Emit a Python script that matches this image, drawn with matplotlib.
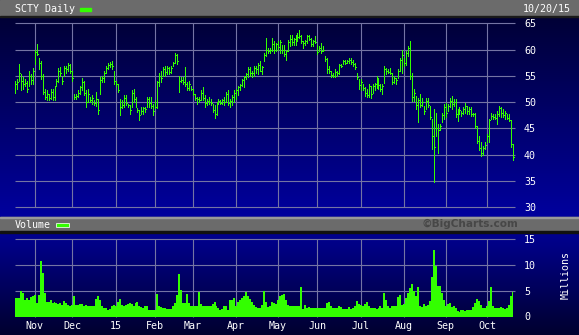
import numpy as np
import pandas as pd
import matplotlib
matplotlib.use("Agg")
import matplotlib.pyplot as plt
from matplotlib.patches import Rectangle
from matplotlib.colors import LinearSegmentedColormap

# ---------------- data ----------------
title = "SCTY Daily"
date_label = "10/20/15"
start_date, end_date = "2014-10-20", "2015-10-20"
holidays = ["2014-11-27", "2014-12-25", "2015-01-01", "2015-01-19", "2015-02-16",
            "2015-04-03", "2015-05-25", "2015-07-03", "2015-09-07"]
month_labels = ["Nov", "Dec", "15", "Feb", "Mar", "Apr", "May", "Jun", "Jul", "Aug", "Sep", "Oct"]
price_ticks = [30, 35, 40, 45, 50, 55, 60, 65]
vol_ticks = [0, 5, 10, 15]

high = [54.1, 54.4, 57.2, 55.3, 54.7, 54.4, 54.1, 55.9, 55.3, 56.4,
        59.9, 61.1, 58.3, 57.8, 55.3, 52.5, 52.2, 51.6, 52.5, 52.5,
        53.1, 54.4, 56.4, 56.6, 54.7, 56.9, 56.9, 57.5, 57.2, 55.9,
        51.6, 51.6, 52.2, 53.1, 54.5, 54.1, 52.2, 52.5, 50.9, 51.3,
        50.3, 51.9, 50.6, 54.7, 55.0, 55.9, 56.9, 57.5, 57.6, 57.8,
        55.9, 54.1, 53.4, 50.6, 50.3, 51.3, 51.3, 49.7, 49.4, 52.2,
        52.5, 50.9, 48.8, 48.4, 49.1, 49.1, 49.1, 50.9, 50.9, 50.9,
        49.7, 50.3, 54.1, 55.6, 55.9, 56.6, 56.9, 56.9, 56.6, 56.9,
        57.6, 59.4, 59.1, 55.0, 54.7, 54.7, 56.6, 53.8, 54.1, 53.1,
        52.5, 51.6, 50.9, 50.9, 52.2, 52.8, 51.3, 50.6, 50.9, 50.6,
        49.7, 49.4, 50.0, 50.6, 50.3, 50.6, 50.9, 51.9, 52.2, 50.6,
        51.3, 52.2, 52.5, 53.1, 53.4, 54.4, 55.0, 55.6, 56.6, 56.6,
        55.9, 56.9, 56.9, 57.5, 57.8, 56.9, 59.4, 62.2, 60.3, 60.3,
        62.2, 61.6, 61.3, 61.6, 61.9, 60.9, 60.9, 60.0, 61.9, 62.8,
        62.8, 62.2, 62.8, 63.1, 63.8, 62.8, 61.6, 61.9, 62.8, 62.8,
        62.2, 61.9, 62.5, 60.9, 60.6, 61.3, 60.6, 58.8, 58.4, 56.9,
        55.9, 55.6, 56.3, 55.9, 57.2, 57.2, 58.1, 58.1, 58.1, 58.4,
        58.4, 58.1, 57.5, 55.6, 54.4, 54.4, 53.5, 52.8, 52.4, 53.4,
        53.1, 53.4, 53.7, 55.0, 54.4, 53.4, 53.4, 56.8, 56.5, 56.2,
        56.5, 55.6, 54.9, 54.6, 56.2, 58.4, 60.0, 58.4, 59.7, 60.6,
        61.7, 55.6, 52.4, 51.2, 50.8, 51.5, 50.8, 49.3, 50.8, 50.8,
        49.3, 46.8, 48.6, 48.0, 45.8, 45.8, 48.0, 49.6, 49.9, 49.6,
        50.8, 51.2, 50.5, 50.5, 48.6, 49.0, 48.3, 49.0, 49.9, 49.3,
        49.0, 49.0, 48.0, 48.0, 45.5, 43.6, 42.4, 41.6, 42.4, 43.9,
        46.8, 48.0, 47.7, 47.7, 48.3, 49.3, 49.0, 48.6, 48.3, 47.7,
        47.7, 46.5, 42.0]

low = [51.8, 52.5, 54.0, 52.2, 52.5, 53.1, 51.9, 53.1, 53.4, 53.4,
       57.3, 58.9, 56.3, 54.4, 51.6, 50.6, 50.3, 50.3, 50.6, 50.3,
       50.3, 53.1, 53.8, 55.0, 53.4, 55.0, 55.6, 55.9, 55.6, 54.1,
       50.6, 50.6, 50.9, 51.6, 52.2, 51.3, 49.1, 50.0, 50.0, 49.7,
       49.4, 49.3, 47.8, 51.6, 53.8, 53.8, 55.6, 56.3, 56.6, 56.3,
       53.4, 53.1, 51.9, 47.5, 48.8, 49.1, 49.4, 49.1, 47.8, 49.1,
       50.0, 49.1, 48.1, 46.6, 47.8, 47.8, 48.1, 49.1, 49.1, 48.8,
       47.5, 48.8, 48.8, 53.1, 53.8, 55.0, 55.0, 55.3, 55.3, 55.6,
       56.9, 57.5, 57.2, 51.9, 53.8, 53.4, 53.1, 52.2, 52.2, 52.2,
       51.3, 50.3, 49.7, 50.0, 50.3, 50.3, 49.1, 49.4, 49.7, 49.4,
       48.1, 46.9, 47.5, 49.7, 49.7, 49.7, 49.4, 50.0, 49.4, 49.1,
       49.4, 50.0, 50.6, 51.3, 52.2, 53.1, 52.8, 54.4, 54.7, 55.0,
       54.7, 55.0, 55.6, 55.3, 55.9, 55.3, 57.8, 58.8, 59.4, 59.4,
       59.7, 59.4, 59.7, 60.0, 59.4, 59.4, 58.8, 58.1, 59.7, 60.6,
       60.9, 60.9, 60.9, 61.6, 62.2, 61.3, 60.3, 60.9, 61.3, 61.9,
       60.6, 60.6, 61.3, 59.1, 59.7, 59.4, 59.7, 57.8, 55.6, 55.6,
       54.7, 54.7, 54.7, 55.0, 55.3, 56.6, 57.2, 57.2, 57.5, 57.5,
       57.2, 56.9, 56.3, 54.4, 52.5, 52.2, 52.2, 51.2, 50.9, 50.9,
       50.8, 51.8, 52.2, 52.7, 52.5, 52.1, 51.5, 53.7, 55.3, 55.6,
       55.3, 53.4, 53.7, 53.4, 54.6, 55.9, 55.6, 56.8, 57.1, 58.7,
       54.3, 50.2, 50.2, 48.6, 46.1, 49.0, 49.3, 47.7, 48.6, 49.0,
       46.8, 41.1, 34.8, 43.6, 40.2, 44.6, 46.1, 46.8, 47.1, 48.3,
       49.0, 48.6, 49.3, 47.1, 46.4, 47.7, 47.4, 47.7, 48.0, 47.7,
       47.7, 47.4, 47.4, 45.0, 42.2, 40.8, 39.8, 40.0, 41.1, 42.4,
       42.4, 46.8, 46.8, 46.8, 45.8, 47.4, 47.1, 47.1, 46.8, 46.8,
       46.4, 41.5, 39.0]

close = [53.5, 53.8, 55.5, 54.0, 53.5, 53.6, 52.5, 55.0, 54.2, 56.0,
         59.5, 59.2, 57.5, 55.0, 52.0, 51.0, 51.5, 50.8, 52.0, 51.0,
         52.8, 54.0, 56.0, 55.5, 54.0, 56.5, 56.2, 57.0, 56.0, 54.5,
         51.0, 51.2, 51.8, 52.8, 53.8, 51.8, 50.0, 51.5, 50.4, 50.8,
         49.8, 50.5, 48.5, 54.2, 54.5, 55.5, 56.5, 57.0, 57.2, 56.8,
         54.0, 53.5, 52.2, 49.0, 49.5, 50.8, 49.8, 49.4, 48.5, 51.8,
         50.5, 49.4, 48.4, 47.5, 48.2, 48.8, 48.6, 50.5, 49.8, 49.2,
         48.2, 49.0, 53.8, 55.0, 54.5, 56.2, 55.8, 56.5, 55.8, 56.5,
         57.4, 59.0, 57.8, 54.0, 54.2, 53.8, 53.5, 52.6, 53.5, 52.5,
         51.6, 50.8, 50.5, 50.4, 51.8, 50.8, 49.8, 50.2, 50.0, 49.8,
         48.5, 47.8, 49.6, 50.2, 49.9, 50.3, 50.0, 51.5, 49.8, 50.2,
         51.0, 51.8, 52.2, 52.8, 53.2, 54.2, 54.8, 55.3, 56.3, 55.5,
         55.6, 56.5, 56.2, 57.0, 56.0, 56.7, 59.0, 60.0, 59.8, 60.0,
         61.0, 60.0, 61.0, 60.4, 61.5, 60.0, 59.2, 59.8, 61.5, 62.0,
         61.5, 62.0, 62.5, 62.4, 62.5, 61.6, 61.2, 61.7, 62.5, 62.0,
         61.0, 61.6, 61.5, 59.6, 60.2, 59.8, 60.0, 58.2, 56.2, 56.0,
         55.2, 55.0, 55.8, 55.5, 57.0, 56.9, 57.8, 57.5, 57.9, 58.0,
         57.6, 57.3, 56.6, 54.8, 53.2, 53.8, 52.6, 51.8, 51.3, 53.0,
         51.5, 53.0, 53.4, 54.5, 53.2, 52.5, 53.0, 56.2, 56.0, 55.8,
         55.6, 53.8, 54.5, 54.2, 55.9, 58.0, 59.0, 57.5, 59.3, 60.2,
         55.0, 51.0, 51.8, 49.5, 50.3, 49.5, 50.0, 48.2, 50.2, 49.5,
         47.2, 43.5, 41.5, 45.0, 44.6, 45.5, 47.5, 49.0, 48.0, 49.2,
         50.2, 49.6, 50.0, 47.8, 48.2, 48.5, 47.9, 48.6, 49.2, 48.3,
         48.6, 47.8, 47.7, 45.5, 42.6, 41.2, 40.3, 41.2, 41.9, 43.5,
         46.5, 47.3, 47.2, 47.0, 47.8, 48.8, 48.0, 47.5, 47.9, 47.0,
         46.6, 42.0, 39.6]

volume = [3.6, 3.6, 3.6, 4.9, 4.6, 3.3, 3.5, 3.3, 3.8, 3.9,
          4.2, 2.6, 4.2, 10.8, 8.5, 4.6, 2.9, 2.9, 3.3, 2.6,
          2.9, 2.7, 2.4, 2.6, 2.3, 3.1, 2.6, 2.3, 2.0, 2.3,
          3.9, 2.2, 2.3, 2.5, 2.5, 2.1, 2.3, 2.1, 2.1, 2.1,
          2.1, 3.4, 3.9, 3.3, 2.1, 1.6, 1.6, 1.3, 1.4, 2.0,
          2.3, 2.0, 2.9, 3.4, 2.3, 2.0, 2.3, 2.5, 2.7, 2.5,
          2.1, 2.6, 2.9, 2.1, 1.8, 1.6, 2.0, 2.1, 1.3, 1.3,
          1.3, 1.3, 4.4, 2.1, 1.8, 1.6, 1.6, 1.4, 1.4, 1.4,
          2.1, 2.7, 4.2, 8.2, 5.2, 2.6, 2.6, 4.4, 2.6, 2.1,
          2.1, 2.0, 2.1, 4.7, 2.5, 2.1, 2.0, 2.0, 2.0, 2.0,
          2.5, 2.9, 2.0, 1.6, 1.3, 1.4, 2.1, 2.1, 1.3, 3.3,
          3.3, 3.6, 2.1, 2.9, 3.3, 3.5, 3.9, 4.8, 3.9, 3.4,
          2.9, 2.3, 1.8, 1.6, 1.6, 2.3, 4.9, 2.9, 1.8, 2.1,
          2.9, 2.6, 2.5, 3.3, 3.9, 4.2, 4.4, 3.3, 2.3, 2.1,
          2.1, 2.1, 2.1, 2.1, 2.1, 5.7, 1.4, 2.3, 1.6, 1.8,
          1.6, 1.6, 1.6, 1.6, 1.6, 1.6, 1.6, 1.6, 2.6, 2.9,
          2.1, 1.6, 1.6, 1.6, 2.1, 1.8, 1.4, 1.4, 1.4, 1.8,
          1.4, 1.6, 2.1, 3.1, 2.5, 2.3, 2.1, 2.5, 2.9, 2.0,
          1.6, 1.6, 1.6, 1.4, 1.6, 2.0, 1.6, 4.6, 3.3, 2.0,
          1.6, 2.0, 2.1, 2.0, 3.8, 4.1, 2.3, 2.5, 3.6, 4.6,
          5.6, 6.4, 4.9, 3.9, 5.7, 2.1, 1.8, 2.5, 2.1, 2.3,
          3.1, 7.7, 13.0, 9.8, 6.0, 5.9, 4.6, 3.3, 2.1, 2.5,
          2.6, 1.8, 2.1, 1.6, 1.1, 0.9, 1.3, 1.3, 1.1, 1.3,
          1.3, 1.3, 1.8, 2.7, 3.4, 3.1, 2.3, 1.6, 1.6, 2.0,
          3.1, 5.7, 2.1, 1.6, 1.6, 1.6, 1.8, 1.6, 1.4, 1.6,
          2.3, 3.9, 4.7]

# ---------------- layout helpers ----------------
W, H = 579, 335
GREEN = "#33ff00"
GRID = "#7474a4"
GRAY = "#6b6b6b"
MONO = "DejaVu Sans Mono"
FS = 7.2

dates = pd.bdate_range(start_date, end_date)
dates = dates[~dates.isin(pd.to_datetime(holidays))]
n = len(dates)
x = np.arange(n)
month_pos = [i for i in range(1, n) if dates[i].month != dates[i - 1].month]

fig = plt.figure(figsize=(W / 100, H / 100), dpi=100)
fig.patch.set_facecolor("#000040")

# background layer in pixel coordinates
bg = fig.add_axes([0, 0, 1, 1])
bg.set_xlim(0, W)
bg.set_ylim(H, 0)
bg.axis("off")

cm_main = LinearSegmentedColormap.from_list("m", ["#000036", "#00009e"])
cm_vol = LinearSegmentedColormap.from_list("v", ["#000092", "#00002e"])
grad = np.linspace(0, 1, 256).reshape(-1, 1)
bg.imshow(grad, cmap=cm_main, extent=(0, W, 216.7, 17), aspect="auto", origin="upper", zorder=0)
bg.imshow(grad, cmap=cm_vol, extent=(0, W, H, 232.5), aspect="auto", origin="upper", zorder=0)

# header bands
bg.add_patch(Rectangle((0, 0), W, 16, color=GRAY, zorder=1))
bg.add_patch(Rectangle((0, 16), W, 1.2, color="#1a1a1a", zorder=1))
bg.add_patch(Rectangle((0, 216.7), W, 15, color=GRAY, zorder=1))
bg.add_patch(Rectangle((0, 216.7), W, 0.8, color="#9a9a9a", zorder=1))
bg.add_patch(Rectangle((0, 231.3), W, 1.3, color="#111111", zorder=1))

bg.text(15, 8.8, title, color="white", fontsize=FS, family=MONO, va="center", ha="left", zorder=3)
bg.add_patch(Rectangle((80, 7.6), 10.7, 3.2, color=GREEN, zorder=3))
bg.text(571, 8.8, date_label, color="white", fontsize=FS, family=MONO, va="center", ha="right", zorder=3)

bg.text(15, 225.3, "Volume", color="white", fontsize=FS, family=MONO, va="center", ha="left", zorder=3)
bg.add_patch(Rectangle((56.3, 223.3), 12.3, 4.0, facecolor=GREEN, edgecolor="#e8ffe0", lw=0.6, zorder=3))
bg.text(518, 224.3, "\u00a9BigCharts.com", color="#474747", fontsize=7.6, fontweight="bold",
        family="DejaVu Sans", va="center", ha="right", zorder=3)
bg.text(566, 275, "Millions", color="white", fontsize=FS, family=MONO, rotation=90,
        va="center", ha="center", zorder=3)

# ---------------- price panel ----------------
XMIN, XMAX = 0.0, 253.1
ax = fig.add_axes([15 / W, 1 - 207 / H, 500 / W, (207 - 23.3) / H])
ax.set_facecolor("none")
ax.set_xlim(XMIN, XMAX)
ax.set_ylim(30, 65)
for s in ax.spines.values():
    s.set_visible(False)
ax.hlines(price_ticks, XMIN, XMAX, color=GRID, lw=0.8, clip_on=False, zorder=1)
ax.vlines(month_pos, 30, 65, color=GRID, lw=0.8, clip_on=False, zorder=1)
ax.vlines(x, low, high, color=GREEN, lw=0.72, clip_on=False, zorder=3, antialiased=False)
ax.hlines(close, x, x + 0.5, color=GREEN, lw=0.72, clip_on=False, zorder=3, antialiased=False)
ax.set_xticks([])
ax.yaxis.tick_right()
ax.set_yticks(price_ticks)
ax.set_yticklabels([str(t) for t in price_ticks])
ax.tick_params(axis="y", length=0, pad=6.5, labelcolor="white", labelsize=FS)
for lab in ax.get_yticklabels():
    lab.set_family(MONO)

# ---------------- volume panel ----------------
av = fig.add_axes([15 / W, 1 - 316.5 / H, 500 / W, (316.5 - 239.3) / H])
av.set_facecolor("none")
av.set_xlim(XMIN, XMAX)
av.set_ylim(0, 15)
for s in av.spines.values():
    s.set_visible(False)
av.hlines([5, 10, 15], XMIN, XMAX, color=GRID, lw=0.8, clip_on=False, zorder=1)
av.vlines(month_pos, 0, 15, color=GRID, lw=0.8, clip_on=False, zorder=1)
av.fill_between(x, volume, 0, step="mid", color=GREEN, lw=0, zorder=3)
av.yaxis.tick_right()
av.set_yticks(vol_ticks)
av.set_yticklabels([str(t) for t in vol_ticks])
av.set_xticks(month_pos)
av.set_xticklabels(month_labels)
av.tick_params(axis="y", length=0, pad=6.5, labelcolor="white", labelsize=FS)
av.tick_params(axis="x", length=0, pad=3.5, labelcolor="white", labelsize=FS)
for lab in av.get_yticklabels() + av.get_xticklabels():
    lab.set_family(MONO)

fig.savefig("out.png", dpi=100, facecolor=fig.get_facecolor())
